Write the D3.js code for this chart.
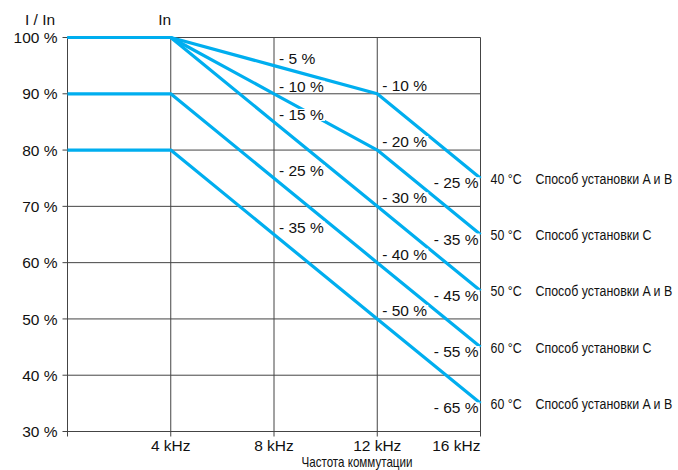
<!DOCTYPE html>
<html>
<head>
<meta charset="utf-8">
<script src="https://cdn.jsdelivr.net/npm/d3@7"></script>
<style>
  body { margin: 0; background: #fff; }
  text { font-family: "Liberation Sans", Arial, sans-serif; fill: #111; }
</style>
</head>
<body>
<svg id="chart" width="678" height="470"></svg>
<script>
// switching frequency, kHz
const freqs = [0, 4, 8, 12, 16];
// current I/In, % for each curve
const curve40AB = [100, 100, 95, 90, 75];
const curve50C = [100, 100, 90, 80, 65];
const curve50AB = [100, 100, 85, 70, 55];
const curve60C = [90, 90, 75, 60, 45];
const curve60AB = [80, 80, 65, 50, 35];
const curves = [curve40AB, curve50C, curve50AB, curve60C, curve60AB];
const temps = ["40 °C", "50 °C", "50 °C", "60 °C", "60 °C"];
const methods = ["Способ установки A и B", "Способ установки C", "Способ установки A и B",
  "Способ установки C", "Способ установки A и B"];
const yTicks = [30, 40, 50, 60, 70, 80, 90, 100];
const xTicks = [4, 8, 12, 16];
const xLabels = ["4 kHz", "8 kHz", "12 kHz", "16 kHz"];

const svg = d3.select('#chart');
const x = d3.scaleLinear().domain([0, 16]).range([67.5, 480.5]);
const y = d3.scaleLinear().domain([30, 100]).range([431.5, 37.5]);
const blue = '#00aeef';
const gridColor = '#444';
const NARROW = 0.8; // condensed look, no narrow font installed

// GRID
const grid = svg.append('g').attr('stroke', gridColor).attr('stroke-width', 1);
grid.selectAll('line.h')
  .data(yTicks)
  .enter().append('line')
  .attr('x1', x(0) - 5).attr('x2', x(16))
  .attr('y1', d => y(d)).attr('y2', d => y(d));
grid.selectAll('line.v')
  .data([0].concat(xTicks))
  .enter().append('line')
  .attr('x1', d => x(d)).attr('x2', d => x(d))
  .attr('y1', y(100)).attr('y2', y(30) + 5);

// AXIS TEXT
svg.append('g')
  .selectAll('text')
  .data(yTicks)
  .enter().append('text')
  .attr('x', x(0) - 10)
  .attr('y', d => y(d))
  .attr('dy', '0.36em')
  .attr('text-anchor', 'end')
  .attr('font-size', 15.5)
  .text(d => d + ' %');

svg.append('g')
  .selectAll('text')
  .data(xTicks)
  .enter().append('text')
  .attr('x', d => x(d))
  .attr('y', y(30) + 19)
  .attr('text-anchor', (d, i) => i === xTicks.length - 1 ? 'end' : 'middle')
  .attr('font-size', 15.5)
  .text((d, i) => xLabels[i]);

svg.append('text').attr('x', 40).attr('y', 25).attr('text-anchor', 'middle')
  .attr('font-size', 15.5).text('I / In');
svg.append('text').attr('x', x(4) - 6).attr('y', 25).attr('text-anchor', 'middle')
  .attr('font-size', 15.5).text('In');
svg.append('g')
  .attr('transform', `translate(357,467) scale(${NARROW},1)`)
  .append('text').attr('text-anchor', 'middle').attr('font-size', 14.5)
  .text('Частота коммутации');

// CURVES
const line = d3.line().x((d, i) => x(freqs[i])).y(d => y(d));
svg.append('g')
  .selectAll('path')
  .data(curves)
  .enter().append('path')
  .attr('d', line)
  .attr('fill', 'none')
  .attr('stroke', blue)
  .attr('stroke-width', 3.2)
  .attr('stroke-linejoin', 'round');

// DERATING LABELS
const labels = [];
curves.forEach(c => {
  labels.push({ f: 8, v: c[2], anchor: 'start', dx: 5, dy: -2 });
  labels.push({ f: 12, v: c[3], anchor: 'start', dx: 5, dy: -3 });
  labels.push({ f: 16, v: c[4], anchor: 'end', dx: -2, dy: 10 });
});
const lab = svg.append('g');
labels.forEach(l => {
  const g = lab.append('g');
  const t = g.append('text')
    .attr('x', x(l.f) + l.dx)
    .attr('y', y(l.v) + l.dy)
    .attr('text-anchor', l.anchor)
    .attr('font-size', 15.5)
    .text('- ' + (100 - l.v) + ' %');
  const b = t.node().getBBox();
  g.insert('rect', 'text')
    .attr('x', b.x - 1).attr('width', b.width + 2)
    .attr('y', y(l.v) + l.dy - 11).attr('height', 12)
    .attr('fill', '#fff');
});

// CURVE NAMES
const names = svg.append('g')
  .selectAll('g')
  .data(curves)
  .enter().append('g')
  .attr('transform', d => `translate(${x(16) + 10},${y(d[4])}) scale(${NARROW},1)`);
names.append('text')
  .attr('dy', '0.35em')
  .attr('font-size', 15.5)
  .text((d, i) => temps[i]);
names.append('text')
  .attr('x', 45 / NARROW)
  .attr('dy', '0.35em')
  .attr('font-size', 15.5)
  .text((d, i) => methods[i]);
</script>
</body>
</html>
